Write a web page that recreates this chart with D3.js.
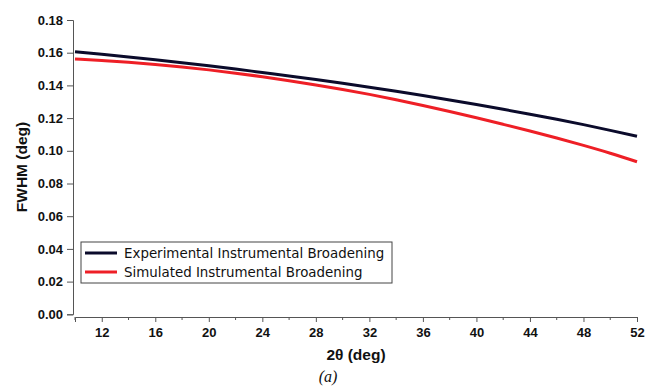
<!DOCTYPE html>
<html>
<head>
<meta charset="utf-8">
<script src="https://cdn.jsdelivr.net/npm/d3@7"></script>
<style>
  body { margin: 0; background: #fff; }
  text { font-family: "Liberation Sans", Arial, sans-serif; fill: #111; }
</style>
</head>
<body>
<div id="chart"></div>
<script>
// 2theta values (deg)
var twoTheta = [10, 12, 14, 16, 18, 20, 22, 24, 26, 28, 30, 32, 34, 36, 38, 40, 42, 44, 46, 48, 50, 52];
// FWHM (deg)
var experimental = [0.1606, 0.1590, 0.1574, 0.1557, 0.1539, 0.1520, 0.1500, 0.1479, 0.1458, 0.1436, 0.1413,
  0.1389, 0.1364, 0.1338, 0.1311, 0.1283, 0.1254, 0.1224, 0.1193, 0.1160, 0.1125, 0.1089];
var simulated = [0.1562, 0.1552, 0.1541, 0.1528, 0.1513, 0.1495, 0.1475, 0.1453, 0.1429, 0.1403, 0.1375,
  0.1345, 0.1312, 0.1277, 0.1240, 0.1202, 0.1162, 0.1121, 0.1078, 0.1033, 0.0985, 0.0933];
var seriesNames = ["Experimental Instrumental Broadening", "Simulated Instrumental Broadening"];
var seriesColors = ["#0b0b2b", "#ee1f26"];
var yTicks = [0, 0.02, 0.04, 0.06, 0.08, 0.10, 0.12, 0.14, 0.16, 0.18];
var xTicks = [12, 16, 20, 24, 28, 32, 36, 40, 44, 48, 52];
var xMinorTicks = [10, 14, 18, 22, 26, 30, 34, 38, 42, 46, 50];

var width = 646, height = 386;
var svg = d3.select("#chart").append("svg").attr("width", width).attr("height", height);

var x = d3.scaleLinear().domain([10, 52]).range([75, 637]);
var y = d3.scaleLinear().domain([0, 0.18]).range([314.3, 20]);

// y axis
var yAxis = svg.append("g").attr("transform", "translate(73,0)")
  .call(d3.axisLeft(y).tickValues(yTicks).tickFormat(d3.format(".2f")).tickSizeOuter(0).tickSize(6).tickPadding(4));
yAxis.select(".domain").attr("stroke", "#555");
yAxis.selectAll(".tick line").attr("stroke", "#555");
yAxis.selectAll("text").style("font-size", "13px").style("font-weight", "600").attr("fill", "#111");

// x axis (offset below the plot)
var xAxisG = svg.append("g").attr("transform", "translate(0,317)");
xAxisG.call(d3.axisBottom(x).tickValues(xTicks).tickSizeOuter(0).tickSize(5).tickPadding(6));
xAxisG.select(".domain").attr("stroke", "#555");
xAxisG.selectAll(".tick line").attr("stroke", "#555");
xAxisG.selectAll("text").style("font-size", "13px").style("font-weight", "600").attr("fill", "#111");
xAxisG.selectAll(".minor").data(xMinorTicks).enter().append("line")
  .attr("class", "minor")
  .attr("x1", function(d){ return x(d); }).attr("x2", function(d){ return x(d); })
  .attr("y1", 0).attr("y2", 3).attr("stroke", "#555");

// axis titles
svg.append("text").attr("x", 356).attr("y", 360).attr("text-anchor", "middle")
  .style("font-size", "15.5px").style("font-weight", "bold").text("2θ (deg)");
svg.append("text").attr("transform", "translate(27,167) rotate(-90)").attr("text-anchor", "middle")
  .style("font-size", "15.5px").style("font-weight", "bold").text("FWHM (deg)");
svg.append("text").attr("x", 328).attr("y", 382).attr("text-anchor", "middle")
  .style("font-family", "'Liberation Serif', 'DejaVu Serif', serif").style("font-style", "italic")
  .style("font-size", "16px").text("(a)");

// curves
var line = d3.line()
  .x(function(d){ return x(d[0]); })
  .y(function(d){ return y(d[1]); })
  .curve(d3.curveMonotoneX);

[experimental, simulated].forEach(function(vals, i){
  svg.append("path")
    .datum(twoTheta.map(function(t, j){ return [t, vals[j]]; }))
    .attr("d", line)
    .attr("fill", "none")
    .attr("stroke", seriesColors[i])
    .attr("stroke-width", 3);
});

// legend
var lg = svg.append("g").attr("transform", "translate(81,242)");
lg.append("rect").attr("width", 311).attr("height", 41)
  .attr("fill", "#fff").attr("stroke", "#444").attr("stroke-width", 1);
seriesNames.forEach(function(name, i){
  var yy = 11 + i * 19;
  lg.append("line").attr("x1", 4).attr("x2", 36).attr("y1", yy).attr("y2", yy)
    .attr("stroke", seriesColors[i]).attr("stroke-width", 3);
  lg.append("text").attr("x", 43).attr("y", yy + 5)
    .style("font-family", "'DejaVu Sans', sans-serif")
    .style("font-size", "13.4px").text(name);
});
</script>
</body>
</html>
